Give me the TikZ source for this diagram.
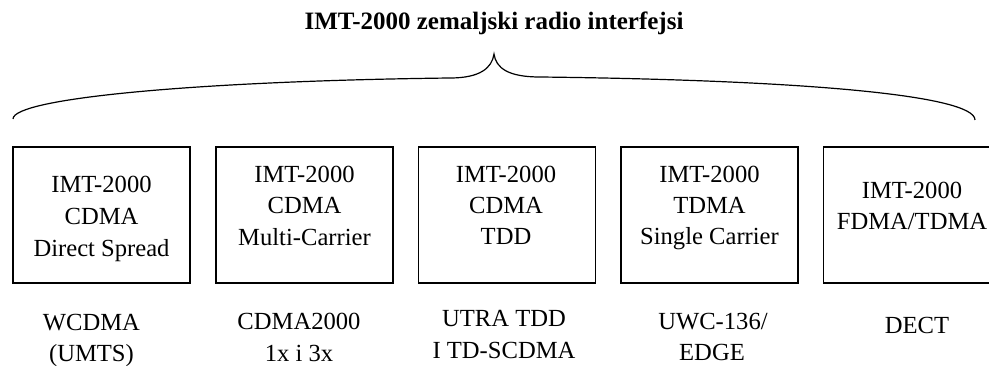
\documentclass[tikz,border=0pt]{standalone}
\usepackage{fontspec}
\setmainfont{Liberation Serif}
\begin{document}
\begin{tikzpicture}[x=1pt,y=-1pt,
  box/.style={draw=black, line width=1.1pt, minimum width=177pt, minimum height=136pt, inner sep=0pt, fill=none},
  txt/.style={font=\fontsize{24.6}{30}\selectfont, inner sep=0pt, anchor=base},
  ttl/.style={font=\bfseries\fontsize{25}{30}\selectfont, inner sep=0pt, anchor=base},
  bracestyle/.style={draw=black, line width=1.2pt}]
\useasboundingbox (0,0) rectangle (989,366);
\fill[white] (0,0) rectangle (989,366);

% title
\node[ttl] (title) at (494,29.3) {IMT-2000 zemaljski radio interfejsi};

% brace
\coordinate (bl) at (13,119);
\coordinate (bm1) at (450,78);
\coordinate (btip) at (494,54);
\coordinate (bm2) at (540,77);
\coordinate (br) at (975,120);
\draw[bracestyle] (bl) .. controls (13,98) and (200,81) .. (bm1)
  .. controls (480,78) and (492,68) .. (btip)
  .. controls (496,68) and (508,77) .. (bm2)
  .. controls (800,80) and (975,95) .. (br);

% boxes
\node[box] (b1) at (101.5,215) {};
\node[box] (b2) at (304.5,215) {};
\node[box] (b3) at (507,215) {};
\node[box] (b4) at (709.5,215) {};
\node[box] (b5) at (912,215) {};

% box 1 text
\node[txt] (b1a) at (101.5,192.3) {IMT-2000};
\node[txt] (b1b) at (101.5,224.3) {CDMA};
\node[txt] (b1c) at (101.5,256.3) {Direct Spread};
% box 2 text
\node[txt] (b2a) at (304.5,182.3) {IMT-2000};
\node[txt] (b2b) at (304.5,213.8) {CDMA};
\node[txt] (b2c) at (304.5,245.3) {Multi-Carrier};
% box 3 text
\node[txt] (b3a) at (506,182.3) {IMT-2000};
\node[txt] (b3b) at (506,213.3) {CDMA};
\node[txt] (b3c) at (506,244.5) {TDD};
% box 4 text
\node[txt] (b4a) at (709.5,182.3) {IMT-2000};
\node[txt] (b4b) at (709.5,213.5) {TDMA};
\node[txt] (b4c) at (709.5,245) {Single Carrier};
% box 5 text
\node[txt] (b5a) at (912,198.5) {IMT-2000};
\node[txt] (b5b) at (912,230) {FDMA/TDMA};

% labels below
\node[txt] (l1a) at (91.5,330.5) {WCDMA};
\node[txt] (l1b) at (91.5,361.5) {(UMTS)};
\node[txt] (l2a) at (299,329.5) {CDMA2000};
\node[txt] (l2b) at (299,361.5) {1x i 3x};
\node[txt] (l3a) at (504,326.7) {UTRA TDD};
\node[txt] (l3b) at (504,358.3) {I TD-SCDMA};
\node[txt] (l4a) at (713,329.5) {UWC-136/};
\node[txt] (l4b) at (712,361) {EDGE};
\node[txt] (l5a) at (917,333.3) {DECT};
\end{tikzpicture}
\end{document}
